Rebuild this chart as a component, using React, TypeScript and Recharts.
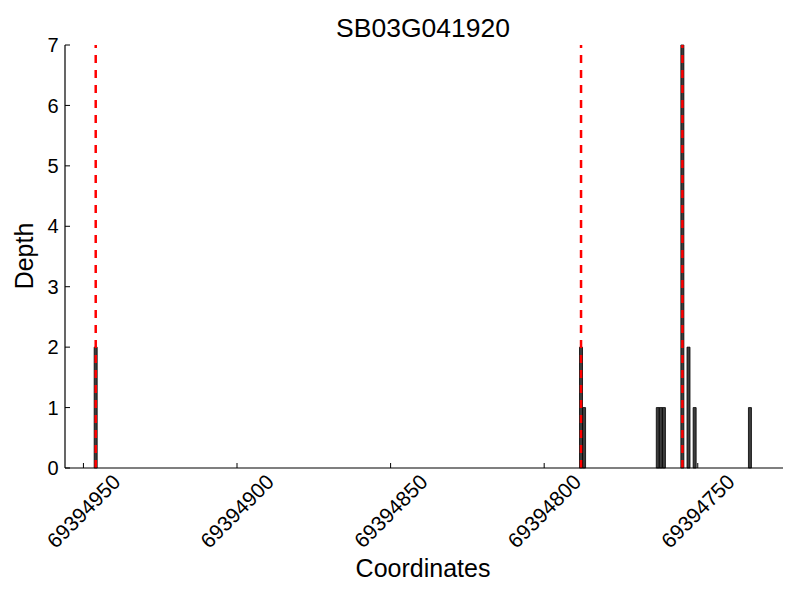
import React from 'react';
import { BarChart, Bar, XAxis, YAxis, ReferenceLine, Label } from 'recharts';

const positions = [69394946, 69394788, 69394787, 69394763, 69394762, 69394761, 69394755, 69394753, 69394751, 69394733];
const depths = [2, 2, 1, 1, 1, 1, 7, 2, 1, 1];
const markers = [69394946, 69394788, 69394755];
const xTicks = [69394950, 69394900, 69394850, 69394800, 69394750];
const yTicks = [0, 1, 2, 3, 4, 5, 6, 7];
const title = 'SB03G041920';
const xLabel = 'Coordinates';
const yLabel = 'Depth';

const data = positions.map((p, i) => ({ pos: p, depth: depths[i] }));

const FONT = '"Liberation Sans", Arial, sans-serif';

const XTick = (props: any) => {
  const { x, y, payload } = props;
  const cy = y + 43;
  return (
    <g>
      <line x1={x} x2={x} y1={y} y2={y - 5} stroke="#000" strokeWidth={1} />
      <text
        x={x}
        y={cy}
        dy="0.36em"
        textAnchor="middle"
        transform={`rotate(-45, ${x}, ${cy})`}
        fontSize={21}
        fontFamily={FONT}
        fill="#000"
      >
        {payload.value}
      </text>
    </g>
  );
};

const YTick = (props: any) => {
  const { x, y, payload } = props;
  return (
    <g>
      <line x1={x} x2={x + 5} y1={y} y2={y} stroke="#000" strokeWidth={1} />
      <text x={x - 6.5} y={y} dy="0.36em" textAnchor="end" fontSize={20} fontFamily={FONT} fill="#000">
        {payload.value}
      </text>
    </g>
  );
};

export default function App() {
  return (
    <div style={{ position: 'absolute', left: 0, top: 0, width: 800, height: 600, background: '#fff' }}>
      <BarChart
        width={800}
        height={600}
        data={data}
        margin={{ top: 45, right: 17, left: 0, bottom: 32 }}
        barCategoryGap={0}
      >
        <XAxis
          type="number"
          dataKey="pos"
          domain={[69394722.25, 69394956]}
          allowDataOverflow
          reversed
          ticks={xTicks}
          interval={0}
          tickLine={false}
          tickSize={0}
          tickMargin={0}
          tick={<XTick />}
          height={100}
          axisLine={{ stroke: '#000', strokeWidth: 1.2 }}
        >
          <Label
            content={() => (
              <text x={423} y={577} textAnchor="middle" fontSize={25} fontFamily={FONT} fill="#000">
                {xLabel}
              </text>
            )}
          />
        </XAxis>
        <YAxis
          type="number"
          domain={[0, 7]}
          ticks={yTicks}
          interval={0}
          width={65}
          tickLine={false}
          tickSize={0}
          tickMargin={0}
          tick={<YTick />}
          axisLine={{ stroke: '#000', strokeWidth: 1.2 }}
        >
          <Label
            content={() => (
              <g>
                <text
                  x={33}
                  y={256}
                  textAnchor="middle"
                  transform="rotate(-90, 33, 256)"
                  fontSize={25}
                  fontFamily={FONT}
                  fill="#000"
                >
                  {yLabel}
                </text>
                <text x={423} y={37} textAnchor="middle" fontSize={26.5} fontFamily={FONT} fill="#000">
                  {title}
                </text>
              </g>
            )}
          />
        </YAxis>
        <Bar dataKey="depth" fill="#3d3d3d" stroke="#000" strokeWidth={0.8} barSize={3} isAnimationActive={false} />
        {markers.map((m) => (
          <ReferenceLine key={m} x={m} stroke="#ff0000" strokeWidth={2.5} strokeDasharray="8 7" />
        ))}
      </BarChart>
    </div>
  );
}
